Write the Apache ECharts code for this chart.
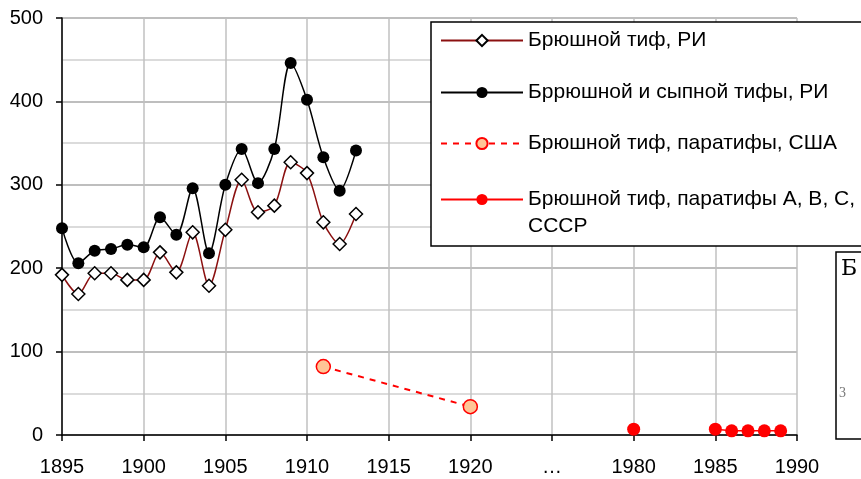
<!DOCTYPE html>
<html>
<head>
<meta charset="utf-8">
<script src="https://cdn.jsdelivr.net/npm/echarts@6/dist/echarts.min.js"></script>
<style>
  html, body { margin: 0; padding: 0; background: #fff; }
  #chart { width: 861px; height: 479px; }
</style>
</head>
<body>
<div id="chart"></div>
<script>
// ось X: 1895–1920, разрыв «…», 1980–1990
const categories = [
  '1895', '1896', '1897', '1898', '1899', '1900', '1901', '1902', '1903', '1904',
  '1905', '1906', '1907', '1908', '1909', '1910', '1911', '1912', '1913', '1914',
  '1915', '1916', '1917', '1918', '1919', '1920',
  'g1', 'g2', 'g3', 'g4', '…', 'g6', 'g7', 'g8', 'g9',
  '1980', '1981', '1982', '1983', '1984', '1985', '1986', '1987', '1988', '1989', '1990'
];

// Брюшной тиф, РИ
const riYears = [1895, 1896, 1897, 1898, 1899, 1900, 1901, 1902, 1903, 1904, 1905, 1906, 1907, 1908, 1909, 1910, 1911, 1912, 1913];
const riTyphoid = [192, 169, 194, 194, 186, 186, 219, 195, 243, 179, 246, 306, 267, 275, 327, 314, 255, 229, 265];
// Брюшной и сыпной тифы, РИ
const riBoth = [248, 206, 221, 223, 228, 225, 261, 240, 296, 218, 300, 343, 302, 343, 446, 402, 333, 293, 341];
// США
const usaYears = [1911, 1920];
const usaValues = [82, 34];
// СССР
const ussrYears = [1980, 1985, 1986, 1987, 1988, 1989];
const ussrValues = [7, 7, 5, 5, 5, 5];

const names = [
  'Брюшной тиф, РИ',
  'Бррюшной и сыпной тифы, РИ',
  'Брюшной тиф, паратифы, США',
  'Брюшной тиф, паратифы А, В, С, СССР'
];

// раскладываем значения по позициям категорий
function toSeries(years, values) {
  const arr = categories.map(() => null);
  years.forEach((y, i) => { arr[categories.indexOf(String(y))] = values[i]; });
  return arr;
}

const font = 'Liberation Sans, Arial, sans-serif';
const chart = echarts.init(document.getElementById('chart'));

function legendAt(name, top, extra) {
  return Object.assign({
    data: [name],
    left: 440,
    top: top,
    padding: 0,
    itemWidth: 82,
    itemHeight: 14,
    itemGap: 0,
    selectedMode: false,
    z: 5,
    textStyle: { fontFamily: font, fontSize: 21, color: '#000' }
  }, extra || {});
}

chart.setOption({
  animation: false,
  grid: { left: 62, right: 64, top: 18, bottom: 44 },
  xAxis: {
    type: 'category',
    data: categories,
    boundaryGap: false,
    axisLine: { lineStyle: { color: '#000', width: 1.5 } },
    axisTick: { interval: 4, length: 6, lineStyle: { color: '#000', width: 1.5 } },
    axisLabel: { interval: 4, margin: 22, fontFamily: font, fontSize: 20, color: '#000' },
    splitLine: { show: true, interval: 4, lineStyle: { color: '#c0c0c0', width: 1.5 } }
  },
  yAxis: {
    type: 'value',
    min: 0,
    max: 500,
    interval: 100,
    axisLine: { show: true, lineStyle: { color: '#000', width: 1.5 } },
    axisTick: { show: true, length: 6, lineStyle: { color: '#000', width: 1.5 } },
    axisLabel: { margin: 19, fontFamily: font, fontSize: 20, color: '#000' },
    splitLine: { lineStyle: { color: '#a8a8a8', width: 1.5 } },
    minorTick: { show: false, splitNumber: 2 },
    minorSplitLine: { show: true, lineStyle: { color: '#d0d0d0', width: 1.5 } }
  },
  legend: [
    legendAt(names[0], 30),
    legendAt(names[1], 82),
    legendAt(names[2], 133),
    // пустая первая строка, чтобы значок стоял против первой строки подписи
    legendAt(names[3], 159, {
      formatter: () => '\nБрюшной тиф, паратифы А, В, С,\nСССР',
      textStyle: { fontFamily: font, fontSize: 21, color: '#000', lineHeight: 27 }
    })
  ],
  graphic: [
    {
      type: 'rect', z: 3,
      shape: { x: 431, y: 22, width: 450, height: 224 },
      style: { fill: '#fff', stroke: '#000', lineWidth: 1.5 }
    },
    {
      type: 'rect', z: 3,
      shape: { x: 836, y: 252, width: 40, height: 187 },
      style: { fill: '#fff', stroke: '#000', lineWidth: 1.5 }
    },
    {
      type: 'text', z: 4, left: 841, top: 258,
      style: { text: 'Б', font: '22px "DejaVu Serif", serif', fill: '#000' }
    },
    {
      type: 'text', z: 4, left: 839, top: 386,
      style: { text: '3', font: '14px "Liberation Serif", serif', fill: '#777' }
    }
  ],
  series: [
    {
      name: names[0],
      type: 'line',
      data: toSeries(riYears, riTyphoid),
      smooth: 0.3,
      showAllSymbol: true,
      symbol: 'diamond',
      symbolSize: 13,
      lineStyle: { color: '#8b1010', width: 1.5 },
      itemStyle: { color: '#fff', borderColor: '#000', borderWidth: 1.5 }
    },
    {
      name: names[1],
      type: 'line',
      data: toSeries(riYears, riBoth),
      smooth: 0.3,
      showAllSymbol: true,
      symbol: 'circle',
      symbolSize: 12,
      lineStyle: { color: '#000', width: 1.5 },
      itemStyle: { color: '#000' }
    },
    {
      name: names[2],
      type: 'line',
      data: toSeries(usaYears, usaValues),
      connectNulls: true,
      showAllSymbol: true,
      symbol: 'circle',
      symbolSize: 14,
      lineStyle: { color: '#ff0000', width: 2, type: [6, 6] },
      itemStyle: { color: '#ffc596', borderColor: '#ff0000', borderWidth: 1.5 }
    },
    {
      name: names[3],
      type: 'line',
      data: toSeries(ussrYears, ussrValues),
      showAllSymbol: true,
      symbol: 'circle',
      symbolSize: 13,
      lineStyle: { color: '#ff0000', width: 1.5 },
      itemStyle: { color: '#ff0000' }
    }
  ]
});
</script>
</body>
</html>
